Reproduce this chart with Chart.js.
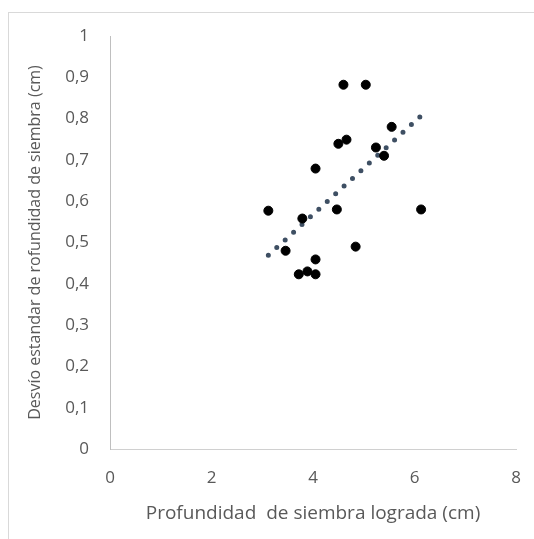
<!DOCTYPE html>
<html>
<head>
<meta charset="utf-8">
<script src="https://cdn.jsdelivr.net/npm/chart.js@4"></script>
<style>
    html, body { margin: 0; padding: 0; background: #fff; }
    #wrap { width: 534px; height: 539px; position: relative; }
</style>
</head>
<body>
<div id="wrap"><canvas id="myChart"></canvas></div>
<script>
// profundidad lograda (cm)
let depthX = [3.12, 3.46, 3.79, 3.72, 3.89, 4.05, 4.05, 4.05, 4.47, 4.84, 6.13, 4.6, 5.04, 4.5, 4.66, 5.24, 5.4, 5.55]
// desvio estandar (cm)
let sdY = [0.577, 0.48, 0.558, 0.423, 0.43, 0.423, 0.459, 0.679, 0.58, 0.49, 0.58, 0.882, 0.882, 0.739, 0.749, 0.73, 0.71, 0.78]

// linea de tendencia (extremos)
let trendX = [3.12, 6.13]
let trendY = [0.469, 0.807]

let xTicks = [0, 2, 4, 6, 8]
let yTicks = [0, 0.1, 0.2, 0.3, 0.4, 0.5, 0.6, 0.7, 0.8, 0.9, 1]

const grey = '#595959'
const fontFam = "'Open Sans', sans-serif"

function toPoints(xs, ys) {
    return xs.map((x, i) => ({ x: x, y: ys[i] }))
}

// marco del grafico (como el borde de Excel)
const framePlugin = {
    id: 'frame',
    beforeDraw(chart) {
        let ctx = chart.ctx
        ctx.save()
        ctx.fillStyle = '#fff'
        ctx.fillRect(0, 0, chart.width, chart.height)
        ctx.strokeStyle = '#d9d9d9'
        ctx.lineWidth = 1
        ctx.strokeRect(8.5, 12.5, chart.width, chart.height)
        ctx.restore()
    }
}

let ctx = document.getElementById('myChart').getContext('2d')
let metricChart = new Chart(ctx, {
    type: 'scatter',
    data: {
        datasets: [{
            label: 'datos',
            data: toPoints(depthX, sdY),
            backgroundColor: '#000',
            borderColor: '#000',
            pointRadius: 4.5,
            pointHoverRadius: 4.5,
            order: 1
        }, {
            label: 'tendencia',
            type: 'line',
            data: toPoints(trendX, trendY),
            borderColor: '#3e4f63',
            borderWidth: 5,
            borderDash: [0, 11.4],
            borderCapStyle: 'round',
            pointRadius: 0,
            fill: false,
            order: 2
        }]
    },
    options: {
        responsive: true,
        maintainAspectRatio: false,
        animation: false,
        layout: { padding: { left: 22, top: 36, right: 0, bottom: 10 } },
        plugins: {
            legend: { display: false },
            tooltip: { enabled: false }
        },
        scales: {
            x: {
                type: 'linear',
                min: 0,
                max: 8,
                afterBuildTicks: (scale) => { scale.ticks = xTicks.map(v => ({ value: v })) },
                afterFit: (scale) => {
                    scale.height = 80
                    scale.paddingLeft = 0
                    scale.paddingRight = 18
                },
                grid: { display: false, drawTicks: false },
                border: { display: true, color: '#d0d0d0', width: 1 },
                ticks: {
                    color: grey,
                    padding: 19,
                    font: { family: fontFam, size: 17 }
                },
                title: {
                    display: true,
                    text: 'Profundidad  de siembra lograda (cm)',
                    color: grey,
                    font: { family: fontFam, size: 19 },
                    padding: { top: 6 }
                }
            },
            y: {
                type: 'linear',
                min: 0,
                max: 1,
                afterBuildTicks: (scale) => { scale.ticks = yTicks.map(v => ({ value: v })) },
                afterFit: (scale) => { scale.width = 88 },
                grid: { display: false, drawTicks: false },
                border: { display: true, color: '#bfbfbf', width: 1 },
                ticks: {
                    color: grey,
                    padding: 21,
                    font: { family: fontFam, size: 17 },
                    callback: (v) => String(v).replace('.', ',')
                },
                title: {
                    display: true,
                    text: 'Desvío estandar de rofundidad de siembra (cm)',
                    color: grey,
                    font: { family: fontFam, size: 16 },
                    padding: { bottom: 6 }
                }
            }
        }
    },
    plugins: [framePlugin]
})
</script>
</body>
</html>
